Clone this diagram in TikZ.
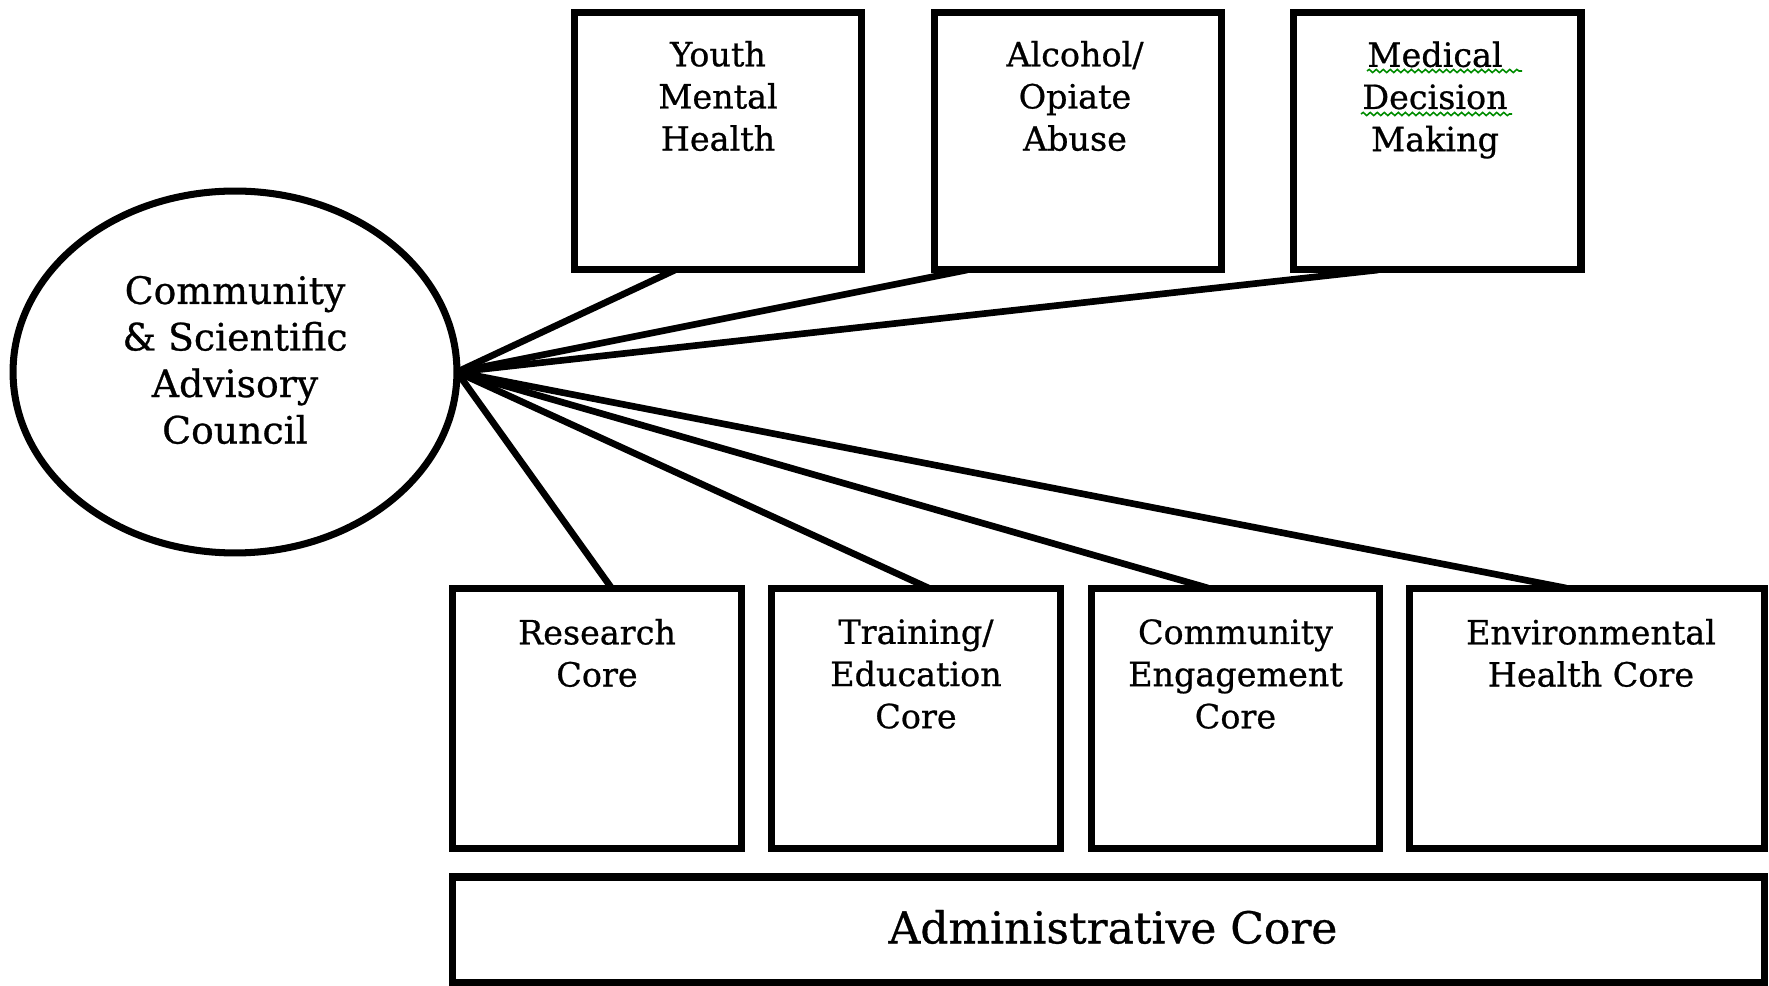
\documentclass[tikz,border=0pt]{standalone}
\usepackage{fontspec}
\setmainfont[FakeBold=0.7]{DejaVu Serif}
\usetikzlibrary{calc,shapes.geometric,decorations.pathmorphing}
\begin{document}
\begin{tikzpicture}[x=0.02cm,y=-0.02cm,
  box/.style={draw,line width=4pt,inner sep=0pt,outer sep=0pt},
  topbox/.style={box,minimum width=5.76cm,minimum height=5.16cm},
  corebox/.style={box,minimum width=5.78cm,minimum height=5.22cm},
  conn/.style={line width=3.8pt},
  txt/.style={align=center,inner sep=0pt,font=\fontsize{19}{24}\selectfont},
  squig/.style={draw=green!55!black,line width=0.9pt,decorate,decoration={snake,amplitude=0.9pt,segment length=4pt}}]
\useasboundingbox (0,0) rectangle (1769,986);
% council
\node[ellipse,draw,line width=4pt,minimum width=8.88cm,minimum height=7.24cm,inner sep=0pt,outer sep=0pt] (csac) at (235,372) {};
\node[txt,font=\fontsize{21.5}{26.5}\selectfont] (csact) at (235,360) {Community\\\& Scientific\\Advisory\\Council};
% top boxes
\node[topbox] (ymh) at (718,141) {};
\node[topbox] (aoa) at (1078,141) {};
\node[topbox] (mdm) at (1437,141) {};
\node[txt] (ymht) at (718,96) {Youth\\Mental\\Health};
\node[txt] (aoat) at (1075,96) {Alcohol/\\Opiate\\Abuse};
\node[txt] (mdmt) at (1435,100) {Medical\\Decision\\Making};
\draw[squig] (1367,71) -- (1522,71);
\draw[squig] (1361,114) -- (1512,114);
% cores
\node[corebox] (rc) at (597,718.5) {};
\node[corebox] (tec) at (916,718.5) {};
\node[corebox] (cec) at (1235.5,718.5) {};
\node[box,minimum width=7.12cm,minimum height=5.22cm] (ehc) at (1587,718.5) {};
\node[txt] (rct) at (597,653) {Research\\Core};
\node[txt] (tect) at (916,674) {Training/\\Education\\Core};
\node[txt] (cect) at (1235.5,674) {Community\\Engagement\\Core};
\node[txt] (ehct) at (1591,653) {Environmental\\Health Core};
\node[box,minimum width=26.26cm,minimum height=2.12cm] (adm) at (1108.5,930) {};
\node[txt,font=\fontsize{25}{30}\selectfont] (admt) at (1113,927) {Administrative Core};
% connectors
\draw[conn] (csac.east) -- ($(ymh.south west)+(101,0)$);
\draw[conn] (csac.east) -- ($(aoa.south west)+(33,0)$);
\draw[conn] (csac.east) -- ($(mdm.south west)+(85,0)$);
\draw[conn] (csac.east) -- ($(rc.north west)+(159,0)$);
\draw[conn] (csac.east) -- ($(tec.north west)+(157,0)$);
\draw[conn] (csac.east) -- ($(cec.north west)+(117,0)$);
\draw[conn] (csac.east) -- ($(ehc.north west)+(157,0)$);
\end{tikzpicture}
\end{document}
